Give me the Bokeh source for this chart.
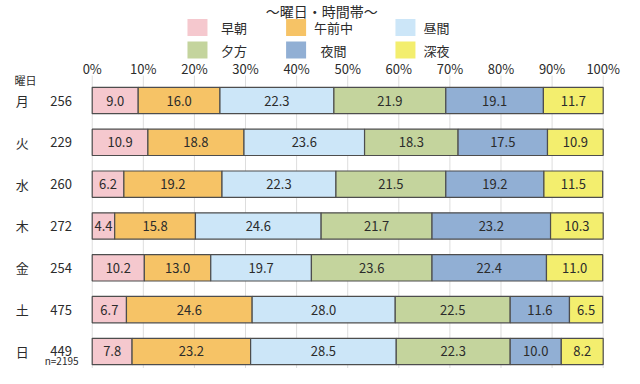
import numpy as np
from bokeh.plotting import figure
from bokeh.models import Range1d, ColumnDataSource
from bokeh.core.properties import value
from bokeh.embed import file_html
from bokeh.resources import INLINE

# ---- data ----
title_text = "～曜日・時間帯～"
days = ["月", "火", "水", "木", "金", "土", "日"]
counts = [256, 229, 260, 272, 254, 475, 449]
categories = ["早朝", "午前中", "昼間", "夕方", "夜間", "深夜"]
early_morning = [9.0, 10.9, 6.2, 4.4, 10.2, 6.7, 7.8]
morning = [16.0, 18.8, 19.2, 15.8, 13.0, 24.6, 23.2]
daytime = [22.3, 23.6, 22.3, 24.6, 19.7, 28.0, 28.5]
evening = [21.9, 18.3, 21.5, 21.7, 23.6, 22.5, 22.3]
night = [19.1, 17.5, 19.2, 23.2, 22.4, 11.6, 10.0]
late_night = [11.7, 10.9, 11.5, 10.3, 11.0, 6.5, 8.2]
series = [early_morning, morning, daytime, evening, night, late_night]
ticks = [0, 10, 20, 30, 40, 50, 60, 70, 80, 90, 100]
tick_labels = [f"{t}%" for t in ticks]
n_label = "n=2195"
row_header = "曜日"

# ---- style ----
colors = ["#F5C8CE", "#F6C366", "#CCE6F8", "#C4D49D", "#91AFD4", "#F3EE6E"]
FONT = value("Noto Sans CJK JP")
TXT = "#2b2b2b"

W, H = 624, 368
p = figure(width=W, height=H, output_backend="svg", toolbar_location=None,
           x_range=Range1d(-17.95, 104.17), y_range=Range1d(6.407, -2.391),
           min_border=0, min_border_left=0, min_border_right=0,
           min_border_top=0, min_border_bottom=0)
p.axis.visible = False
p.grid.visible = False
p.outline_line_color = None
p.background_fill_color = "white"
p.border_fill_color = "white"

rows = np.arange(len(days))

# grid lines
p.segment(x0=ticks, x1=ticks, y0=[-0.598] * len(ticks), y1=[6.5] * len(ticks),
          line_color="#DDDDDD", line_width=1)

# tick labels
p.text(x=ticks, y=[-0.765] * len(ticks), text=tick_labels, text_font=FONT,
       text_font_size="13px", text_color=TXT, text_align="center",
       text_baseline="middle")

# stacked bars
vals = np.array(series)
rights = np.cumsum(vals, axis=0)
lefts = rights - vals
for k, cat in enumerate(categories):
    src = ColumnDataSource(dict(y=rows, left=lefts[k], right=rights[k],
                                mid=(lefts[k] + rights[k]) / 2,
                                lab=[f"{v:.1f}" for v in series[k]]))
    p.hbar(y="y", left="left", right="right", height=0.63, source=src,
           fill_color=colors[k], line_color="#4D4D4D", line_width=1.2)
    p.text(x="mid", y="y", text="lab", source=src, text_font=FONT,
           text_font_size="13px", text_color=TXT, text_align="center",
           text_baseline="middle")

# row labels
p.text(x=[-13.7] * len(days), y=rows, text=days, text_font=FONT,
       text_font_size="13px", text_color=TXT, text_align="center",
       text_baseline="middle")
p.text(x=[-6.1] * len(days), y=rows, text=[str(c) for c in counts],
       text_font=FONT, text_font_size="13px", text_color=TXT,
       text_align="center", text_baseline="middle")
p.text(x=[-13.05], y=[-0.50], text=[row_header], text_font=FONT,
       text_font_size="11px", text_color=TXT, text_align="center",
       text_baseline="middle")
p.text(x=[-9.3], y=[6.216], text=[n_label], text_font=FONT,
       text_font_size="10px", text_color=TXT, text_align="left",
       text_baseline="middle")

# title
p.text(x=[44.9], y=[-2.15], text=[title_text], text_font=FONT,
       text_font_size="14px", text_color=TXT, text_align="center",
       text_baseline="middle")

# legend (manual, 2 rows x 3 cols)
sw_x = [20.6, 39.9, 61.3]
tx_x = [27.75, 47.2, 67.4]
leg_y = [-1.745, -1.207]
lx, ly, tx, cols = [], [], [], []
for k, cat in enumerate(categories):
    r, c = divmod(k, 3)
    lx.append(sw_x[c]); ly.append(leg_y[r]); tx.append(tx_x[c]); cols.append(colors[k])
p.rect(x=lx, y=ly, width=20, height=17, width_units="screen",
       height_units="screen", fill_color=cols, line_color=None)
p.text(x=tx, y=ly, text=categories, text_font=FONT, text_font_size="13px",
       text_color=TXT, text_align="center", text_baseline="middle")

open("out.html", "w").write(file_html(p, INLINE))
